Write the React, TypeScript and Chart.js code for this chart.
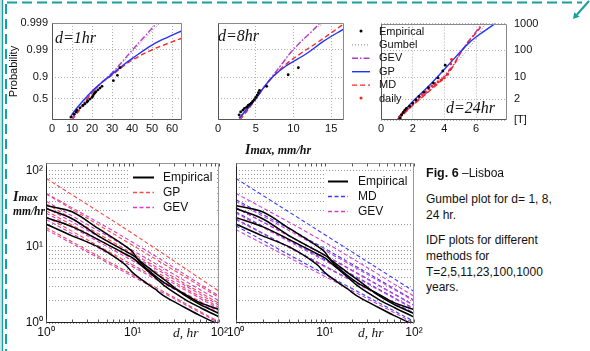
import React, { useEffect, useRef } from "react";
import { Chart, registerables } from "chart.js";
Chart.register(...registerables);

const SANS = "'Liberation Sans', Arial, Helvetica, sans-serif";
const SERIF = "'Liberation Serif', 'Times New Roman', serif";
const TEAL = "#17a09e";

// ---------- Gumbel probability paper (y = reduced variate -ln(-ln p)) ----------
const gumbelTickValues = [0.367, 2.25, 4.6, 6.907];
const probLabels = ["0.5", "0.9", "0.99", "0.999"];
const returnPeriodLabels = ["[T]", "2", "10", "100", "1000"];
const gumbelMin = -1.45;
const gumbelMax = 6.907;

const d1XTicks = [0, 10, 20, 30, 40, 50, 60];
const d8XTicks = [0, 5, 10, 15];
const d24XTicks = [0, 2, 4, 6];

// d = 1 hr
const d1EmpX = [9.5, 11, 12, 12.5, 14, 15.5, 16.5, 17.5, 18, 19, 20, 20.5, 21, 21.5, 22, 23, 24, 25, 30.7, 32.7, 34];
const d1EmpY = [-1.2, -0.95, -0.75, -0.6, -0.4, -0.2, -0.05, 0.1, 0.2, 0.35, 0.5, 0.65, 0.8, 0.9, 1.0, 1.15, 1.3, 1.45, 1.94, 2.4, 3.06];
const d1GpX = [9, 10.7, 15, 20.7, 25, 29, 35, 40.5, 50, 58, 65];
const d1GpY = [-1.3, -0.8, 0.1, 1.15, 1.8, 2.35, 3.2, 3.9, 5.0, 5.7, 6.25];
const d1MdX = [10, 12, 15, 20, 25, 30, 35, 40, 50, 58, 65];
const d1MdY = [-1.45, -1.0, -0.3, 0.9, 1.8, 2.4, 3.1, 3.7, 4.6, 5.15, 5.6];
const d1GevX = [10, 15, 20, 25, 30, 35, 40, 45, 50, 52.5];
const d1GevY = [-1.3, -0.2, 0.9, 1.8, 2.6, 3.55, 4.55, 5.5, 6.45, 6.907];
const d1GumX = [10, 20, 30, 40, 50, 54];
const d1GumY = [-1.2, 0.95, 2.55, 4.4, 6.2, 6.907];

// d = 8 hr
const d8EmpX = [2.8, 3.0, 3.3, 3.5, 3.8, 4.0, 4.2, 4.4, 4.6, 4.8, 5.0, 5.2, 5.35, 5.5, 6.45, 9.3, 10.65];
const d8EmpY = [-1.0, -0.75, -0.6, -0.45, -0.35, -0.2, -0.1, 0.0, 0.15, 0.3, 0.5, 0.7, 0.9, 1.1, 1.45, 2.45, 3.05];
const d8GpX = [2.8, 4, 5.1, 6, 7.3, 9, 11.8, 14, 16.7];
const d8GpY = [-1.3, -0.4, 0.45, 1.3, 2.3, 3.2, 4.3, 5.35, 6.4];
const d8MdX = [2.9, 4, 5, 6, 7.3, 9, 11, 13.1, 15, 16.7];
const d8MdY = [-1.45, -0.55, 0.35, 1.25, 2.3, 3.35, 4.3, 5.2, 6.05, 6.85];
const d8GevX = [2.8, 4, 5, 6, 7.3, 8.5, 9.55, 11, 12.3, 13.5];
const d8GevY = [-1.3, -0.45, 0.4, 1.3, 2.4, 3.4, 4.3, 5.3, 6.1, 6.907];
const d8GumX = [2.8, 5, 7.5, 10, 12.5, 14];
const d8GumY = [-1.2, 0.5, 2.55, 4.6, 6.2, 6.907];

// d = 24 hr
const d24EmpX = [1.2, 1.3, 1.4, 1.5, 1.6, 1.8, 2.0, 2.2, 2.4, 2.7, 3.0, 3.3, 3.6, 3.9, 4.05];
const d24EmpY = [-1.3, -1.0, -0.8, -0.6, -0.45, -0.25, 0.0, 0.3, 0.6, 0.95, 1.35, 1.75, 2.2, 2.8, 3.3];
const d24DailyX = [1.1, 1.15, 1.2, 1.3, 1.4, 1.5, 1.6, 1.8, 2.0, 2.2, 2.4, 2.6, 2.8, 3.0, 3.2, 3.4, 3.6, 3.8, 4.0, 4.2, 4.35, 4.4, 4.45];
const d24DailyY = [-1.4, -1.3, -1.15, -1.0, -0.85, -0.7, -0.55, -0.3, -0.05, 0.25, 0.5, 0.75, 1.0, 1.25, 1.5, 1.7, 1.85, 2.0, 2.2, 2.5, 2.9, 3.4, 3.8];
const d24GpX = [1.1, 1.5, 2.0, 2.9, 3.5, 4.0, 4.5, 5.0, 5.6, 6.4, 7.2];
const d24GpY = [-1.2, -0.6, 0.15, 1.35, 2.2, 2.95, 3.7, 4.45, 5.3, 6.15, 6.907];
const d24MdX = [1.1, 1.5, 2, 3, 3.93, 4.5, 5.0, 5.5, 6.0, 6.45];
const d24MdY = [-1.45, -0.85, -0.2, 1.0, 2.15, 3.1, 4.3, 5.3, 6.1, 6.907];
const d24GevX = [1.1, 1.5, 2, 3, 3.9, 4.5, 5.0, 5.5, 6.0, 6.35];
const d24GevY = [-1.4, -0.8, -0.15, 1.05, 2.2, 3.2, 4.35, 5.35, 6.2, 6.907];
const d24GumX = [1.1, 2, 3, 4, 5, 6, 6.6];
const d24GumY = [-1.35, -0.1, 1.2, 2.5, 3.9, 5.6, 6.907];

// ---------- IDF plots (log-log) ----------
const idfDurations = [1, 2, 4, 8, 10, 12, 18, 24, 40, 60, 100];
const empirical1 = [35, 29, 17.5, 10.5, 8.6, 6.4, 4.2, 3.3, 2.4, 1.85, 1.5];
const empirical2 = [32, 23.5, 14, 9, 7.8, 6.6, 4.6, 3.6, 2.3, 1.75, 1.33];
const empirical3 = [24.5, 18.5, 12.5, 8.2, 7.2, 6.0, 4.0, 3.0, 2.05, 1.6, 1.2];
const empirical4 = [20, 14, 10, 6, 4.6, 3.9, 2.8, 2.2, 1.6, 1.25, 0.95];

const fitDurations = [1, 10, 100];
const gpT1000 = [80, 15, 2.6];
const gpT100 = [50, 10.5, 2.15];
const gpT23 = [37, 8.2, 1.8];
const gpT11 = [30, 7, 1.6];
const gpT5 = [25, 5.8, 1.4];
const gpT2 = [18, 4.3, 1.03];
const gevT1000 = [51, 11.5, 2.25];
const gevT100 = [40, 9, 1.95];
const gevT23 = [33, 7.7, 1.7];
const gevT11 = [28, 6.6, 1.52];
const gevT5 = [23, 5.5, 1.32];
const gevT2 = [17, 4.1, 1.0];
const mdT1000 = [80, 14.5, 2.6];
const mdT100 = [42, 9.5, 2.0];
const mdT23 = [33, 7.8, 1.72];
const mdT11 = [29, 6.8, 1.55];
const mdT5 = [23.5, 5.6, 1.35];
const mdT2 = [19, 4.4, 1.05];

const idfYTicks = [1, 2, 3, 4, 5, 6, 7, 8, 9, 10, 20, 30, 40, 50, 60, 70, 80, 90, 100];
const idfXTicks = [1, 2, 3, 4, 5, 6, 7, 8, 9, 10, 20, 30, 40, 50, 60, 70, 80, 90, 100];
const decadeLabels: Record<number, string> = { 1: "10\u2070", 10: "10\u00b9", 100: "10\u00b2" };

// colours
const C_EMP = "#000000";
const C_GUM = "#808080";
const C_GEV_TOP = "#b53ac8";
const C_GP_TOP = "#2233ff";
const C_MD_TOP = "#ff2626";
const C_DAILY = "#ff1f1f";
const C_GP_IDF = "#ff4848";
const C_GEV_IDF = "#d43cd4";
const C_MD_IDF = "#3b3bff";

const zip = (xs: number[], ys: number[]) => xs.map((x, i) => ({ x, y: ys[i] }));

const dots = (label: string, xs: number[], ys: number[], color: string) => ({
  label, data: zip(xs, ys), showLine: false, pointRadius: 1.4, pointBackgroundColor: color,
  pointBorderWidth: 0, borderColor: color,
});
const curve = (label: string, xs: number[], ys: number[], color: string, dash: number[], width = 1.4) => ({
  label, data: zip(xs, ys), showLine: true, pointRadius: 0, borderColor: color, borderWidth: width,
  borderDash: dash, tension: 0.35, fill: false,
});

// ---------- plugins ----------
const framePlugin = (c: { top: string; right: string; bottom: string; left: string }, innerTicks = false) => ({
  id: "frame",
  afterDatasetsDraw(chart: any) {
    const { ctx, chartArea: a } = chart;
    const l = Math.round(a.left) + 0.5, r = Math.round(a.right) - 0.5;
    const t = Math.round(a.top) + 0.5, b = Math.round(a.bottom) - 0.5;
    ctx.save();
    ctx.lineWidth = 1;
    ctx.setLineDash([]);
    const seg = (x1: number, y1: number, x2: number, y2: number, col: string) => {
      ctx.strokeStyle = col; ctx.beginPath(); ctx.moveTo(x1, y1); ctx.lineTo(x2, y2); ctx.stroke();
    };
    seg(l, t, r, t, c.top);
    seg(r, t, r, b, c.right);
    seg(l, b, r, b, c.bottom);
    seg(l, t, l, b, c.left);
    if (innerTicks) {
      const xs = chart.scales.x;
      ctx.strokeStyle = "#555";
      xs.ticks.forEach((tk: any) => {
        const px = Math.round(xs.getPixelForValue(tk.value)) + 0.5;
        ctx.beginPath(); ctx.moveTo(px, b); ctx.lineTo(px, b - 3); ctx.stroke();
        ctx.beginPath(); ctx.moveTo(px, t); ctx.lineTo(px, t + 3); ctx.stroke();
      });
    }
    ctx.restore();
  },
});

type LegendItem = { label: string; kind: "dot" | "line"; color: string; dash?: number[]; width?: number };
const legendPlugin = (cfg: { x0: number; x1: number; tx: number; y0: number; dy: number; font: string; items: LegendItem[]; box?: number[] }) => ({
  id: "customLegend",
  afterDraw(chart: any) {
    const ctx = chart.ctx;
    ctx.save();
    if (cfg.box) {
      ctx.fillStyle = "#ffffff";
      ctx.fillRect(cfg.box[0], cfg.box[1], cfg.box[2], cfg.box[3]);
    }
    cfg.items.forEach((it, i) => {
      const y = cfg.y0 + i * cfg.dy;
      if (it.kind === "dot") {
        ctx.fillStyle = it.color;
        ctx.beginPath(); ctx.arc((cfg.x0 + cfg.x1) / 2, y, 1.5, 0, Math.PI * 2); ctx.fill();
      } else {
        ctx.strokeStyle = it.color; ctx.lineWidth = it.width ?? 1.2;
        ctx.setLineDash(it.dash ?? []);
        ctx.beginPath(); ctx.moveTo(cfg.x0, y + 0.5); ctx.lineTo(cfg.x1, y + 0.5); ctx.stroke();
        ctx.setLineDash([]);
      }
      ctx.fillStyle = "#111"; ctx.font = cfg.font; ctx.textBaseline = "middle"; ctx.textAlign = "left";
      ctx.fillText(it.label, cfg.tx, y + 0.5);
    });
    ctx.restore();
  },
});

// ---------- config builders ----------
const topFont = { family: SANS, size: 11 };

function gumbelConfig(o: {
  datasets: any[]; xTicks: number[]; xMax: number; yLabels: string[] | null; yTickValues: number[];
  yPosition: "left" | "right"; yWidth: number; xHeight: number; padding: any; yTitle?: string; yPad?: number; plugins?: any[];
}) {
  return {
    type: "scatter",
    data: { datasets: o.datasets },
    options: {
      animation: false, responsive: false, events: [],
      layout: { padding: o.padding },
      plugins: { legend: { display: false }, tooltip: { enabled: false } },
      scales: {
        x: {
          type: "linear", min: 0, max: o.xMax,
          afterBuildTicks: (s: any) => { s.ticks = o.xTicks.map((v) => ({ value: v })); },
          afterFit: (s: any) => { s.height = o.xHeight; },
          ticks: { font: topFont, color: "#111", padding: 2, maxRotation: 0, autoSkip: false, callback: (v: any) => String(v) },
          grid: { color: "#b0b0b0", drawTicks: false, lineWidth: 1 },
          border: { display: false, dash: [1, 2] },
        },
        y: {
          type: "linear", position: o.yPosition, min: gumbelMin, max: gumbelMax,
          afterBuildTicks: (s: any) => { s.ticks = o.yTickValues.map((v) => ({ value: v })); },
          afterFit: (s: any) => { s.width = o.yWidth; },
          ticks: {
            display: !!o.yLabels, font: topFont, color: "#111", padding: o.yPad ?? 4, autoSkip: false,
            callback: (_v: any, i: number) => (o.yLabels ? o.yLabels[i] : ""),
          },
          title: o.yTitle ? { display: true, text: o.yTitle, font: topFont, color: "#111", padding: { top: 0, bottom: 0 } } : { display: false },
          grid: { color: "#b0b0b0", drawTicks: false, lineWidth: 1 },
          border: { display: false, dash: [1, 2] },
        },
      },
    },
    plugins: [framePlugin({ top: "#888", right: "#888", bottom: "#555", left: "#555" }), ...(o.plugins ?? [])],
  };
}

function idfConfig(o: { datasets: any[]; yLabels: boolean; yWidth: number; padding: any; plugins?: any[] }) {
  const idfFont = { family: SANS, size: 12 };
  return {
    type: "scatter",
    data: { datasets: o.datasets },
    options: {
      animation: false, responsive: false, events: [],
      layout: { padding: o.padding },
      plugins: { legend: { display: false }, tooltip: { enabled: false } },
      scales: {
        x: {
          type: "logarithmic", min: 1, max: 100,
          afterBuildTicks: (s: any) => { s.ticks = idfXTicks.map((v) => ({ value: v })); },
          afterFit: (s: any) => { s.height = 27; },
          ticks: { font: idfFont, color: "#111", padding: 2, maxRotation: 0, autoSkip: false, callback: (v: any) => decadeLabels[v] ?? "" },
          grid: { display: false, drawTicks: false },
          border: { display: false },
        },
        y: {
          type: "logarithmic", min: 1, max: 127,
          afterBuildTicks: (s: any) => { s.ticks = idfYTicks.map((v) => ({ value: v })); },
          afterFit: (s: any) => { s.width = o.yWidth; },
          ticks: { display: o.yLabels, font: idfFont, color: "#111", padding: 3, autoSkip: false, callback: (v: any) => decadeLabels[v] ?? "" },
          grid: { color: "#9a9a9a", drawTicks: false, lineWidth: 1 },
          border: { display: false, dash: [1, 2] },
        },
      },
    },
    plugins: [framePlugin({ top: "#999", right: "#999", bottom: "#222", left: "#222" }, true), ...(o.plugins ?? [])],
  };
}

// ---------- datasets ----------
const DASH_MD = [5, 3];
const DASH_GEV = [6, 2, 1.5, 2];
const DASH_GUM = [1, 2];

const d1Sets = [
  dots("Empirical", d1EmpX, d1EmpY, C_EMP),
  curve("GP", d1GpX, d1GpY, C_GP_TOP, []),
  curve("MD", d1MdX, d1MdY, C_MD_TOP, DASH_MD),
  curve("GEV", d1GevX, d1GevY, C_GEV_TOP, DASH_GEV),
  curve("Gumbel", d1GumX, d1GumY, C_GUM, DASH_GUM, 1),
];
const d8Sets = [
  dots("Empirical", d8EmpX, d8EmpY, C_EMP),
  curve("GP", d8GpX, d8GpY, C_GP_TOP, []),
  curve("MD", d8MdX, d8MdY, C_MD_TOP, DASH_MD),
  curve("GEV", d8GevX, d8GevY, C_GEV_TOP, DASH_GEV),
  curve("Gumbel", d8GumX, d8GumY, C_GUM, DASH_GUM, 1),
];
const d24Sets = [
  dots("Empirical", d24EmpX, d24EmpY, C_EMP),
  dots("daily", d24DailyX, d24DailyY, C_DAILY),
  curve("GP", d24GpX, d24GpY, C_GP_TOP, []),
  curve("MD", d24MdX, d24MdY, C_MD_TOP, DASH_MD),
  curve("GEV", d24GevX, d24GevY, C_GEV_TOP, DASH_GEV),
  curve("Gumbel", d24GumX, d24GumY, C_GUM, DASH_GUM, 1),
];

const empLine = (ys: number[]) => ({
  label: "Empirical", data: zip(idfDurations, ys), showLine: true, pointRadius: 0,
  borderColor: C_EMP, borderWidth: 1.5, tension: 0.3,
});
const fitLine = (label: string, ys: number[], color: string) => ({
  label, data: zip(fitDurations, ys), showLine: true, pointRadius: 0,
  borderColor: color, borderWidth: 1.1, borderDash: [4, 2.5], tension: 0.4,
});
const empSets = [empLine(empirical1), empLine(empirical2), empLine(empirical3), empLine(empirical4)];
const gevSets = [gevT1000, gevT100, gevT23, gevT11, gevT5, gevT2].map((ys) => fitLine("GEV", ys, C_GEV_IDF));
const gpSets = [gpT1000, gpT100, gpT23, gpT11, gpT5, gpT2].map((ys) => fitLine("GP", ys, C_GP_IDF));
const mdSets = [mdT1000, mdT100, mdT23, mdT11, mdT5, mdT2].map((ys) => fitLine("MD", ys, C_MD_IDF));

// ---------- components ----------
function ChartBox({ left, top, width, height, make }: { left: number; top: number; width: number; height: number; make: () => any }) {
  const ref = useRef<HTMLCanvasElement>(null);
  useEffect(() => {
    const chart = new Chart(ref.current as HTMLCanvasElement, make());
    return () => chart.destroy();
  }, []);
  return <canvas ref={ref} width={width} height={height} style={{ position: "absolute", left, top, width, height }} />;
}

function Txt({ x, cy, lh = 16, style, children }: any) {
  return (
    <div style={{ position: "absolute", left: x, top: cy - lh / 2, lineHeight: `${lh}px`, whiteSpace: "nowrap", ...style }}>
      {children}
    </div>
  );
}

const serifIt = { fontFamily: SERIF, fontStyle: "italic", color: "#111" };

export default function App() {
  return (
    <div style={{ position: "fixed", left: 0, top: 0, width: 590, height: 351, background: "#fff", overflow: "hidden", fontFamily: SANS }}>
      {/* decorative frame */}
      <svg width={590} height={351} style={{ position: "absolute", left: 0, top: 0 }}>
        <rect x={0} y={0} width={2} height={351} fill="#cfe7e6" />
        <line x1={2.5} y1={0} x2={2.5} y2={351} stroke={TEAL} strokeWidth={1.3} />
        <line x1={6} y1={4} x2={6} y2={351} stroke={TEAL} strokeWidth={2} strokeDasharray="10 5" />
        <line x1={7} y1={2.5} x2={582} y2={2.5} stroke={TEAL} strokeWidth={2} strokeDasharray="10 5" />
        <line x1={589} y1={1} x2={577} y2={14.5} stroke={TEAL} strokeWidth={2} />
        <polygon points="573,19 579.6,16.8 574.3,12.2" fill={TEAL} />
      </svg>

      <ChartBox left={0} top={10} width={190} height={130} make={() => gumbelConfig({
        datasets: d1Sets, xTicks: d1XTicks, xMax: 65, yLabels: probLabels, yTickValues: gumbelTickValues,
        yPosition: "left", yWidth: 45, xHeight: 20, padding: { top: 13, right: 8, left: 7, bottom: 0 }, yTitle: "Probability",
      })} />
      <ChartBox left={200} top={10} width={150} height={130} make={() => gumbelConfig({
        datasets: d8Sets, xTicks: d8XTicks, xMax: 16.7, yLabels: null, yTickValues: gumbelTickValues,
        yPosition: "left", yWidth: 18, xHeight: 20, padding: { top: 13, right: 6, left: 0, bottom: 0 },
      })} />
      <ChartBox left={345} top={10} width={205} height={130} make={() => gumbelConfig({
        datasets: d24Sets, xTicks: d24XTicks, xMax: 7.95, yLabels: returnPeriodLabels, yTickValues: [gumbelMin, ...gumbelTickValues],
        yPosition: "right", yWidth: 43, xHeight: 20, padding: { top: 13, right: 0, left: 36, bottom: 0 }, yPad: 7,
        plugins: [legendPlugin({
          x0: 7, x1: 25, tx: 34, y0: 21, dy: 13.4, font: `11px ${SANS}`,
          items: [
            { label: "Empirical", kind: "dot", color: C_EMP },
            { label: "Gumbel", kind: "line", color: C_GUM, dash: DASH_GUM, width: 1 },
            { label: "GEV", kind: "line", color: C_GEV_TOP, dash: DASH_GEV, width: 1.4 },
            { label: "GP", kind: "line", color: C_GP_TOP, width: 1.4 },
            { label: "MD", kind: "line", color: C_MD_TOP, dash: DASH_MD, width: 1.4 },
            { label: "daily", kind: "dot", color: C_DAILY },
          ],
        })],
      })} />

      <ChartBox left={0} top={150} width={230} height={200} make={() => idfConfig({
        datasets: [...empSets, ...gevSets, ...gpSets], yLabels: true, yWidth: 46, padding: { top: 13, right: 10, left: 0, bottom: 0 },
        plugins: [legendPlugin({
          x0: 133, x1: 154, tx: 163, y0: 27, dy: 15, font: `12px ${SANS}`, box: [130, 18, 86, 48],
          items: [
            { label: "Empirical", kind: "line", color: C_EMP, width: 2 },
            { label: "GP", kind: "line", color: C_GP_IDF, dash: [4, 2.5], width: 1.3 },
            { label: "GEV", kind: "line", color: C_GEV_IDF, dash: [4, 2.5], width: 1.3 },
          ],
        })],
      })} />
      <ChartBox left={225} top={150} width={200} height={200} make={() => idfConfig({
        datasets: [...empSets, ...gevSets, ...mdSets], yLabels: false, yWidth: 10, padding: { top: 13, right: 11, left: 0, bottom: 0 },
        plugins: [legendPlugin({
          x0: 103, x1: 123, tx: 133, y0: 31, dy: 15, font: `12px ${SANS}`, box: [100, 22, 88, 48],
          items: [
            { label: "Empirical", kind: "line", color: C_EMP, width: 2 },
            { label: "MD", kind: "line", color: C_MD_IDF, dash: [4, 2.5], width: 1.3 },
            { label: "GEV", kind: "line", color: C_GEV_IDF, dash: [4, 2.5], width: 1.3 },
          ],
        })],
      })} />

      {/* in-plot labels */}
      <Txt x={55} cy={38} lh={18} style={{ ...serifIt, fontSize: 16 }}>d=1hr</Txt>
      <Txt x={218} cy={36} lh={18} style={{ ...serifIt, fontSize: 16 }}>d=8hr</Txt>
      <Txt x={446} cy={108} lh={18} style={{ ...serifIt, fontSize: 16 }}>d=24hr</Txt>
      <Txt x={245} cy={150} lh={16} style={{ ...serifIt, fontSize: 12, fontWeight: "bold" }}>
        <span style={{ fontSize: 14 }}>I</span>max, mm/hr
      </Txt>
      <Txt x={13} cy={197} lh={14} style={{ ...serifIt, fontSize: 11, fontWeight: "bold" }}>
        <span style={{ fontSize: 14 }}>I</span>max
      </Txt>
      <Txt x={13} cy={211} lh={14} style={{ ...serifIt, fontSize: 11.5, fontWeight: "bold" }}>mm/hr</Txt>
      <Txt x={173} cy={333} lh={16} style={{ ...serifIt, fontSize: 13.5 }}>d, hr</Txt>
      <Txt x={358} cy={333} lh={16} style={{ ...serifIt, fontSize: 13.5 }}>d, hr</Txt>

      {/* caption */}
      <div style={{ fontFamily: SANS, fontSize: 12, color: "#111" }}>
        <Txt x={426} cy={173}><b style={{ fontSize: 12.5 }}>Fig. 6</b> –Lisboa</Txt>
        <Txt x={426} cy={199}>Gumbel plot for d= 1, 8,</Txt>
        <Txt x={426} cy={215}>24 hr.</Txt>
        <Txt x={426} cy={240}>IDF plots for different</Txt>
        <Txt x={426} cy={256}>methods for</Txt>
        <Txt x={426} cy={272}>T=2,5,11,23,100,1000</Txt>
        <Txt x={426} cy={287}>years.</Txt>
      </div>
    </div>
  );
}
